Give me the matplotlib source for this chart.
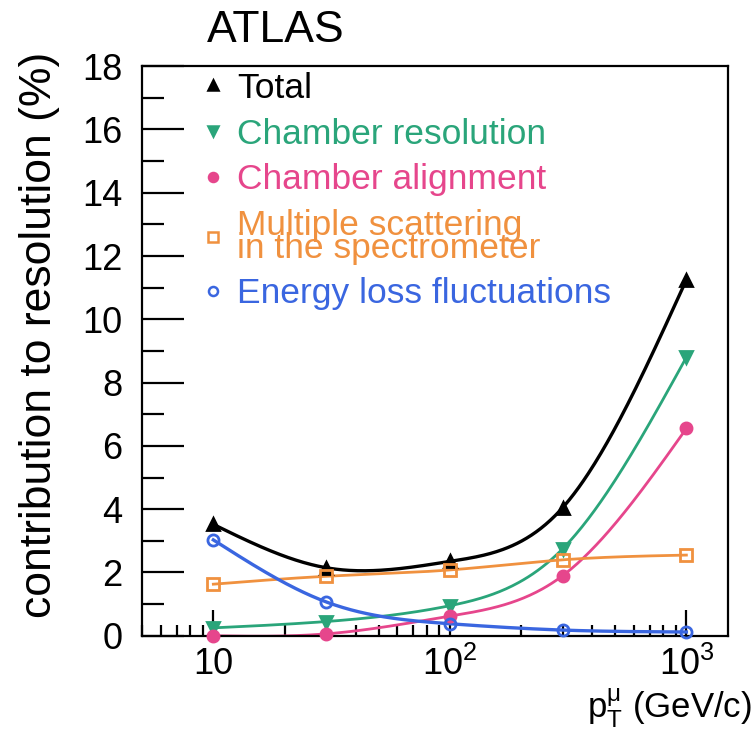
import numpy as np
import matplotlib
matplotlib.use('Agg')
import matplotlib.pyplot as plt
from matplotlib.lines import Line2D
from matplotlib.ticker import FixedLocator, FixedFormatter, LogLocator, NullFormatter, MultipleLocator

plt.rcParams['font.family'] = ['Liberation Sans', 'DejaVu Sans']
plt.rcParams['mathtext.default'] = 'regular'

# ---------- Data ----------
pt = [10, 30, 100, 300, 1000]
total = [3.52, 2.15, 2.35, 4.05, 11.25]
chamber_res = [0.25, 0.45, 0.95, 2.75, 8.8]
chamber_align = [0.0, 0.06, 0.62, 1.9, 6.55]
mult_scat = [1.63, 1.88, 2.08, 2.4, 2.55]
eloss = [3.03, 1.07, 0.38, 0.18, 0.12]

labels = ['Total', 'Chamber resolution', 'Chamber alignment',
          'Multiple scattering\nin the spectrometer', 'Energy loss fluctuations']
colors = ['black', '#2aa57a', '#e6468c', '#f0913f', '#3a66e0']


# natural cubic spline in log10(pt), used only to draw the smooth curves
def smooth(x, y, n=300):
    t = np.log10(x)
    y = np.asarray(y, float)
    h = np.diff(t)
    k = len(t)
    A = np.zeros((k, k))
    r = np.zeros(k)
    A[0, 0] = A[-1, -1] = 1
    for i in range(1, k - 1):
        A[i, i - 1] = h[i - 1]
        A[i, i] = 2 * (h[i - 1] + h[i])
        A[i, i + 1] = h[i]
        r[i] = 6 * ((y[i + 1] - y[i]) / h[i] - (y[i] - y[i - 1]) / h[i - 1])
    M = np.linalg.solve(A, r)
    tt = np.linspace(t[0], t[-1], n)
    idx = np.clip(np.searchsorted(t, tt) - 1, 0, k - 2)
    t0, t1, hh = t[idx], t[idx + 1], h[idx]
    yy = (M[idx] * (t1 - tt)**3 + M[idx + 1] * (tt - t0)**3) / (6 * hh) \
        + (y[idx] / hh - M[idx] * hh / 6) * (t1 - tt) \
        + (y[idx + 1] / hh - M[idx + 1] * hh / 6) * (tt - t0)
    return 10**tt, yy


fig = plt.figure(figsize=(7.56, 7.35), dpi=100)
ax = fig.add_axes([0.188, 0.135, 0.775, 0.775])

series = [
    (total, '^', True, 2.4),
    (chamber_res, 'v', True, 2.0),
    (chamber_align, 'o', True, 2.0),
    (mult_scat, 's', False, 2.0),
    (eloss, 'o', False, 2.4),
]

handles = []
for (vals, mk, filled, lw), col in zip(series, colors):
    xs, ys = smooth(pt, vals)
    ax.plot(xs, ys, color=col, lw=lw, zorder=2)
    fc = col if filled else 'none'
    ax.plot(pt, vals, linestyle='none', marker=mk, ms=8, mfc=fc, mec=col,
            mew=2.0, zorder=3, clip_on=False)
    handles.append(Line2D([], [], linestyle='none', marker=mk, ms=6.5, mfc=fc,
                          mec=col, mew=1.8))

ax.set_xscale('log')
ax.set_xlim(5, 1500)
ax.set_ylim(0, 18)

# ---------- Ticks ----------
ax.xaxis.set_major_locator(FixedLocator([10, 100, 1000]))
ax.xaxis.set_major_formatter(FixedFormatter(['10', '$10^{2}$', '$10^{3}$']))
ax.xaxis.set_minor_locator(LogLocator(base=10, subs=np.arange(2, 10)))
ax.xaxis.set_minor_formatter(NullFormatter())
ax.yaxis.set_major_locator(MultipleLocator(2))
ax.yaxis.set_minor_locator(MultipleLocator(1))

ax.tick_params(which='both', direction='in', top=False, right=False,
               labelsize=26, width=1.6)
ax.tick_params(axis='y', which='major', length=30, pad=14)
ax.tick_params(axis='y', which='minor', length=16)
ax.tick_params(axis='x', which='major', length=19, pad=8)
ax.tick_params(axis='x', which='minor', length=8)
for sp in ax.spines.values():
    sp.set_linewidth(1.6)

# ---------- Legend ----------
leg = ax.legend(handles, labels, loc='upper left', bbox_to_anchor=(0.078, 1.015),
                frameon=False, fontsize=25.5, handlelength=0.6, handletextpad=0.4,
                labelspacing=0.36, borderaxespad=0)
for txt, col in zip(leg.get_texts(), colors):
    txt.set_color(col)
    txt.set_linespacing(0.6)

# ---------- Labels ----------
ax.text(0.111, 1.042, 'ATLAS', transform=ax.transAxes, fontsize=32,
        va='baseline', ha='left')
fig.text(0.052, 0.544, 'contribution to resolution (%)', rotation=90,
         fontsize=32, ha='center', va='center')
fig.text(0.995, 0.023, r'$p_{T}^{\mu}$ (GeV/c)', fontsize=25,
         ha='right', va='baseline')

fig.savefig('out.png', dpi=100)
